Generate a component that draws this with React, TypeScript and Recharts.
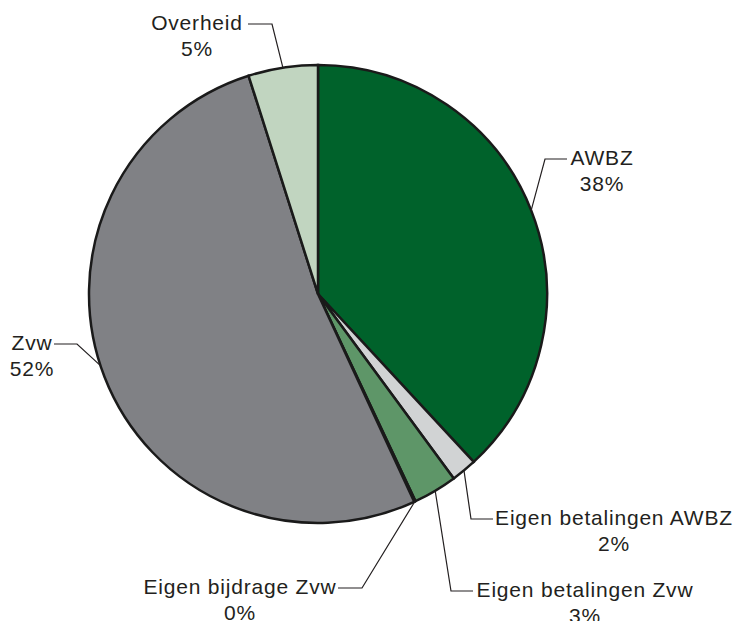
import React from "react";
import { PieChart, Pie, Cell } from "recharts";

// slices clockwise from 12 o'clock
const categories = [
  "AWBZ",
  "Eigen betalingen AWBZ",
  "Eigen betalingen Zvw",
  "Eigen bijdrage Zvw",
  "Zvw",
  "Overheid",
];
const shares = [38.1, 1.8, 3.1, 0.1, 52.0, 4.9];
const colors = ["#00622b", "#d1d3d4", "#5e9668", "#5e9668", "#808185", "#c1d5c0"];

const data = categories.map((name, i) => ({ name, value: shares[i] }));

// leader line elbows and text placement, page coordinates
const labelLayout: Record<
  string,
  { elbow: [number, number]; end: number; textX: number; shift?: number }
> = {
  AWBZ: { elbow: [545, 159], end: 567, textX: 602 },
  "Eigen betalingen AWBZ": { elbow: [471, 519], end: 493, textX: 614 },
  "Eigen betalingen Zvw": { elbow: [451, 591], end: 473, textX: 585 },
  "Eigen bijdrage Zvw": { elbow: [362, 588], end: 338, textX: 240 },
  Zvw: { elbow: [77, 344], end: 54, textX: 32, shift: 3 },
  Overheid: { elbow: [272, 24], end: 248, textX: 197 },
};

const RAD = Math.PI / 180;
const textColor = "#231f20";
const font = "'Liberation Sans', Arial, sans-serif";

const renderLabel = (props: any) => {
  const { cx, cy, midAngle, outerRadius, index } = props;
  const name = categories[index];
  const lay = labelLayout[name];
  const a = midAngle - (lay.shift ?? 0);
  const ax = cx + outerRadius * Math.cos(-a * RAD);
  const ay = cy + outerRadius * Math.sin(-a * RAD);
  const [ex, ey] = lay.elbow;
  const pct = Math.round(shares[index]) + "%";
  return (
    <g key={name}>
      <polyline
        points={`${ax},${ay} ${ex},${ey} ${lay.end},${ey}`}
        fill="none"
        stroke={textColor}
        strokeWidth={1.2}
      />
      <text x={lay.textX} y={ey + 6} textAnchor="middle" fill={textColor}
        fontSize={21} letterSpacing={0.8} fontFamily={font}>
        {name}
      </text>
      <text x={lay.textX} y={ey + 32} textAnchor="middle" fill={textColor}
        fontSize={21} letterSpacing={0.8} fontFamily={font}>
        {pct}
      </text>
    </g>
  );
};

export default function App() {
  return (
    <div style={{ position: "absolute", left: 0, top: 0, background: "#fff" }}>
      <PieChart width={736} height={621} margin={{ top: 0, right: 0, bottom: 0, left: 0 }}>
        <Pie
          data={data}
          dataKey="value"
          nameKey="name"
          cx={318}
          cy={294}
          outerRadius={229}
          startAngle={90}
          endAngle={-270}
          stroke="#1a1a1a"
          strokeWidth={2.5}
          label={renderLabel}
          labelLine={false}
          isAnimationActive={false}
        >
          {data.map((d, i) => (
            <Cell key={d.name} fill={colors[i]} />
          ))}
        </Pie>
      </PieChart>
    </div>
  );
}
